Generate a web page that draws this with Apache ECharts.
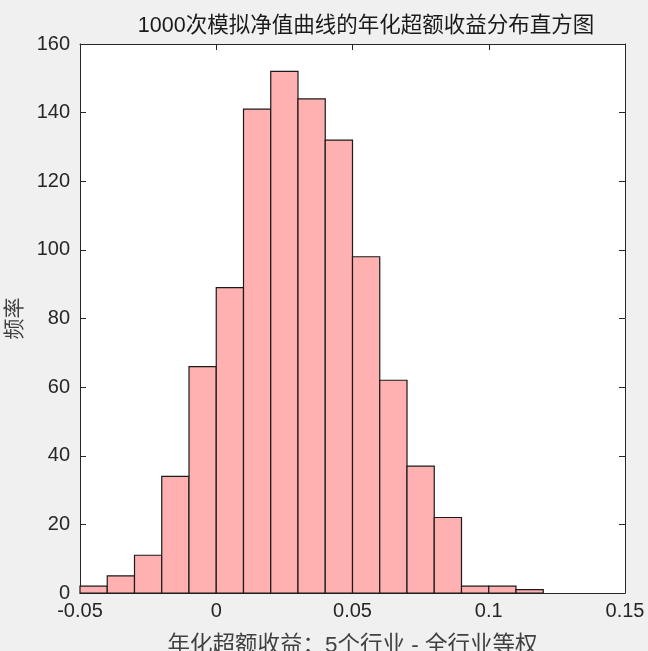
<!DOCTYPE html>
<html><head><meta charset="utf-8">
<script src="https://cdn.jsdelivr.net/npm/echarts@6/dist/echarts.min.js"></script>
<style>html,body{margin:0;padding:0;background:#f0f0f0;overflow:hidden;}#c{width:648px;height:651px;}</style>
</head><body><div id="c"></div>
<script>
const binStart = [-0.05,-0.04,-0.03,-0.02,-0.01,0,0.01,0.02,0.03,0.04,0.05,0.06,0.07,0.08,0.09,0.10,0.11];
const binWidth = 0.01;
const counts = [2,5,11,34,66,89,141,152,144,132,98,62,37,22,2,2,1];
const xTicks = [-0.05,0,0.05,0.1,0.15];
const yTicks = [0,20,40,60,80,100,120,140,160];
const titleText = '1000次模拟净值曲线的年化超额收益分布直方图';
const xName = '年化超额收益：5个行业 - 全行业等权';
const yName = '频率';

const data = binStart.map((s,i)=>[s, +(s+binWidth).toFixed(4), counts[i]]);
const font = '"Liberation Sans","Noto Sans CJK SC",sans-serif';
const axisCol = '#262626';
const fmtX = v => { const r = Math.round(v*100)/100; return r===0?'0':String(r); };

const chart = echarts.init(document.getElementById('c'));
const xCommon = {type:'value', min:xTicks[0], max:xTicks[xTicks.length-1], interval:0.05,
  axisLine:{show:true, onZero:false, lineStyle:{color:axisCol,width:1}},
  axisTick:{show:true, inside:true, length:6, lineStyle:{color:axisCol}},
  splitLine:{show:false}};
const yCommon = {type:'value', min:yTicks[0], max:yTicks[yTicks.length-1], interval:20,
  axisLine:{show:true, onZero:false, lineStyle:{color:axisCol,width:1}},
  axisTick:{show:true, inside:true, length:6, lineStyle:{color:axisCol}},
  splitLine:{show:false}};
chart.setOption({
  backgroundColor:'#f0f0f0',
  animation:false,
  title:{text:titleText, left:361, top:10, textAlign:'center',
    textStyle:{fontFamily:font, fontSize:21.5, fontWeight:'normal', color:'#1a1a1a'}},
  grid:{left:80, width:545, top:44, height:549, show:true, backgroundColor:'#ffffff', borderWidth:0,
    containLabel:false, outerBoundsMode:'none'},
  xAxis:[
    Object.assign({}, xCommon, {position:'bottom',
      name:xName, nameLocation:'middle', nameGap:42,
      nameTextStyle:{fontFamily:font, fontSize:22.5, color:'#404040'},
      axisLabel:{show:true, fontFamily:font, fontSize:20, color:axisCol, margin:8, formatter:fmtX}}),
    Object.assign({}, xCommon, {position:'top', axisLabel:{show:false}})
  ],
  yAxis:[
    Object.assign({}, yCommon, {position:'left',
      name:yName, nameLocation:'middle', nameGap:51,
      nameTextStyle:{fontFamily:font, fontSize:21, color:'#404040'},
      axisLabel:{show:true, fontFamily:font, fontSize:20, color:axisCol, margin:10}}),
    Object.assign({}, yCommon, {position:'right', axisLabel:{show:false}})
  ],
  series:[{
    type:'custom', xAxisIndex:0, yAxisIndex:0,
    encode:{x:[0,1], y:2},
    data:data,
    renderItem:function(params, api){
      const p0 = api.coord([api.value(0), 0]);
      const p1 = api.coord([api.value(1), api.value(2)]);
      return {type:'rect',
        shape:{x:p0[0], y:p1[1], width:p1[0]-p0[0], height:p0[1]-p1[1]},
        style:{fill:'#ffb0b0', stroke:'#1a1a1a', lineWidth:1.2}};
    }
  }]
});
</script></body></html>
